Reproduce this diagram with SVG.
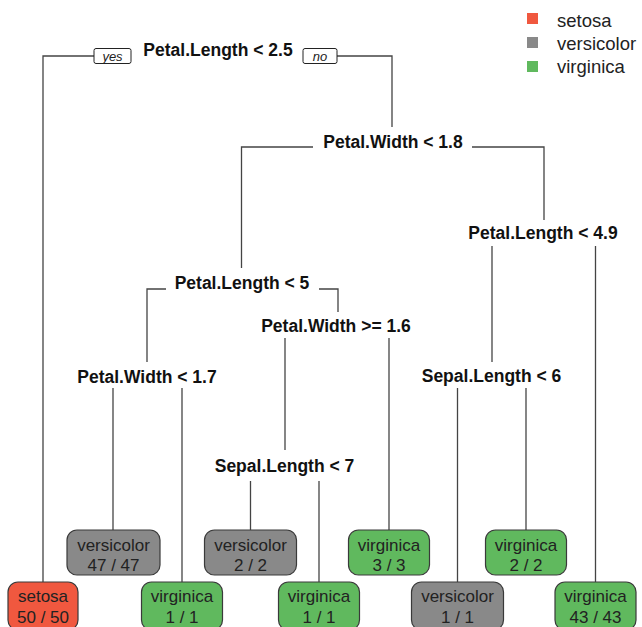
<svg xmlns="http://www.w3.org/2000/svg" width="642" height="627" viewBox="0 0 642 627">
<style>
.split{font-family:"Liberation Sans",Arial,sans-serif;font-weight:bold;font-size:17.5px;fill:#111;text-anchor:middle}
.leaf text{font-family:"Liberation Sans",Arial,sans-serif;font-size:17px;fill:#222;text-anchor:middle}
.box{stroke:#3a3a3a;stroke-width:1.2}
.setosa{fill:#F0583F}
.versicolor{fill:#898989}
.virginica{fill:#60B95E}
.conn path{fill:none;stroke:#444;stroke-width:1.3}
.yn rect{fill:#fff;stroke:#222;stroke-width:1}
.yn text{font-family:"Liberation Sans",Arial,sans-serif;font-style:italic;font-size:13px;fill:#222;text-anchor:middle}
.legend text{font-family:"Liberation Sans",Arial,sans-serif;font-size:18.5px;fill:#222}
</style>
<rect width="642" height="627" fill="#fff"/>
<g id="connectors" class="conn">
<path d="M94 56H43V582"/>
<path d="M337 56H392V127"/>
<path d="M313 147H241.5V268"/>
<path d="M472 147H544V220"/>
<path d="M492 246V362"/>
<path d="M595.5 246V582"/>
<path d="M166 289H147V362"/>
<path d="M319 289H338V312"/>
<path d="M285 338V450"/>
<path d="M389 338V530"/>
<path d="M113 388V530"/>
<path d="M182 388V582"/>
<path d="M457.5 388V582"/>
<path d="M526 388V530"/>
<path d="M250.5 481V530"/>
<path d="M319 481V582"/>
</g>
<g id="yesno" class="yn">
<rect x="94" y="48.5" width="37" height="15" rx="2"/>
<text x="112.5" y="60.5">yes</text>
<rect x="303" y="48.5" width="34" height="15" rx="2"/>
<text x="320" y="60.5">no</text>
</g>
<g id="n1"><text class="split" x="218" y="56">Petal.Length &lt; 2.5</text></g>
<g id="n3"><text class="split" x="393" y="148">Petal.Width &lt; 1.8</text></g>
<g id="n7"><text class="split" x="543" y="239">Petal.Length &lt; 4.9</text></g>
<g id="n6"><text class="split" x="242" y="289">Petal.Length &lt; 5</text></g>
<g id="n13"><text class="split" x="336" y="332">Petal.Width &gt;= 1.6</text></g>
<g id="n12"><text class="split" x="147" y="383">Petal.Width &lt; 1.7</text></g>
<g id="n14"><text class="split" x="491.5" y="382">Sepal.Length &lt; 6</text></g>
<g id="n26"><text class="split" x="284.5" y="472">Sepal.Length &lt; 7</text></g>
<g id="leaf-setosa" class="leaf">
<rect class="box setosa" x="8" y="582" width="70" height="48" rx="10"/>
<text x="43" y="602">setosa</text><text x="43" y="623">50 / 50</text>
</g>
<g id="leaf-vers-47" class="leaf">
<rect class="box versicolor" x="67" y="530" width="93" height="45" rx="10"/>
<text x="113.5" y="551">versicolor</text><text x="113.5" y="571">47 / 47</text>
</g>
<g id="leaf-virg-1a" class="leaf">
<rect class="box virginica" x="141.5" y="582" width="81" height="48" rx="10"/>
<text x="182" y="602">virginica</text><text x="182" y="623">1 / 1</text>
</g>
<g id="leaf-vers-2" class="leaf">
<rect class="box versicolor" x="204.5" y="530" width="92" height="45" rx="10"/>
<text x="250.5" y="551">versicolor</text><text x="250.5" y="571">2 / 2</text>
</g>
<g id="leaf-virg-1b" class="leaf">
<rect class="box virginica" x="278.5" y="582" width="81" height="48" rx="10"/>
<text x="319" y="602">virginica</text><text x="319" y="623">1 / 1</text>
</g>
<g id="leaf-virg-3" class="leaf">
<rect class="box virginica" x="348.5" y="530" width="81" height="45" rx="10"/>
<text x="389" y="551">virginica</text><text x="389" y="571">3 / 3</text>
</g>
<g id="leaf-vers-1" class="leaf">
<rect class="box versicolor" x="411.5" y="582" width="92" height="48" rx="10"/>
<text x="457.5" y="602">versicolor</text><text x="457.5" y="623">1 / 1</text>
</g>
<g id="leaf-virg-2" class="leaf">
<rect class="box virginica" x="485.5" y="530" width="81" height="45" rx="10"/>
<text x="526" y="551">virginica</text><text x="526" y="571">2 / 2</text>
</g>
<g id="leaf-virg-43" class="leaf">
<rect class="box virginica" x="555" y="582" width="81" height="48" rx="10"/>
<text x="595.5" y="602">virginica</text><text x="595.5" y="623">43 / 43</text>
</g>
<g id="legend" class="legend">
<rect class="setosa" x="527" y="13" width="11" height="11"/>
<rect class="versicolor" x="527" y="37" width="11" height="11"/>
<rect class="virginica" x="527" y="61" width="11" height="11"/>
<text x="557" y="27">setosa</text>
<text x="557" y="50">versicolor</text>
<text x="557" y="73">virginica</text>
</g>
</svg>
